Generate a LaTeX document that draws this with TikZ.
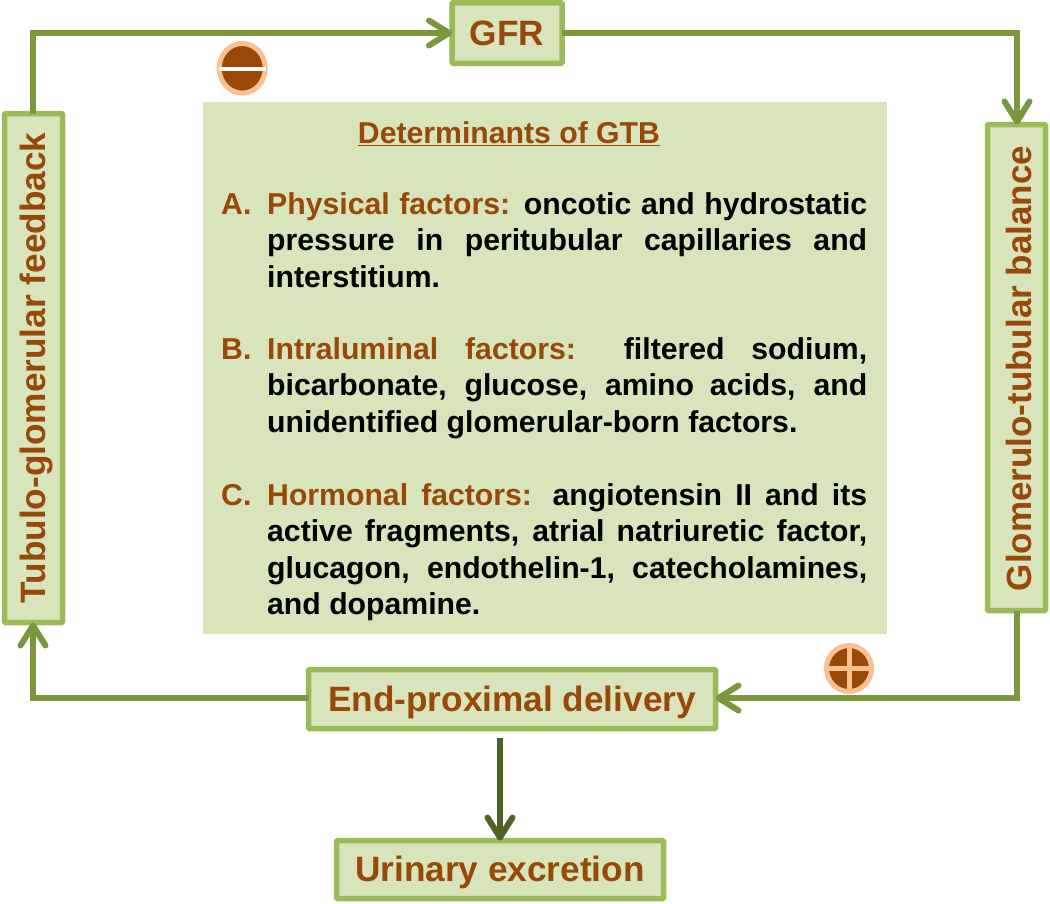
\documentclass[tikz,border=0pt]{standalone}
\usepackage{fontspec}
\setmainfont{Liberation Sans}
\usetikzlibrary{arrows.meta,shapes.geometric}
\definecolor{boxfill}{HTML}{D8E4BC}
\definecolor{boxline}{HTML}{9BBB59}
\definecolor{conn}{HTML}{7A973D}
\definecolor{dconn}{HTML}{4F6228}
\definecolor{brown}{HTML}{984807}
\definecolor{ring}{HTML}{FAC090}
\tikzset{
  x=1pt,y=-1pt,
  flow/.style={line width=5.5pt,fill=boxfill,draw=boxline,rounded corners=1pt,inner sep=0pt,outer sep=0pt,
     text=brown,font=\fontsize{35.2}{38}\selectfont\bfseries,anchor=center},
  conline/.style={draw=conn,line width=6pt},
  tip/.style={-{Straight Barb[length=20pt,width=25pt,line width=6pt,round]}},
  para/.style={anchor=north west,inner sep=0pt,text width=600pt,align=justify,font=\fontsize{30.2}{36.6}\selectfont\bfseries},
  letter/.style={anchor=north west,inner sep=0pt,text=brown,font=\fontsize{30.2}{36.6}\selectfont\bfseries},
  sign/.style={ellipse,fill=brown,draw=ring,line width=5pt,inner sep=0pt,outer sep=0pt}
}
\newcommand{\lab}[1]{\textcolor{brown}{#1}}
\newcommand{\dropb}[2]{\raisebox{-#1pt}[0pt][0pt]{#2}}
\begin{document}
\begin{tikzpicture}
\useasboundingbox (0,0) rectangle (1050,903);
\fill[boxfill] (203,102) rectangle (887,634);
\coordinate (tl) at (33,33);
\coordinate (tr) at (1017,33);
\coordinate (br) at (1017,698);
\coordinate (bl) at (33,698);
\coordinate (dstart) at (500,738);
\node[flow,minimum width=110pt,minimum height=60.5pt] (gfr) at (507,33) {\dropb{12.3}{GFR}};
\node[flow,minimum width=58pt,minimum height=509pt] (tgf) at (33.5,368) {\rotatebox{90}{\dropb{12.3}{Tubulo-glomerular feedback}}};
\node[flow,minimum width=58pt,minimum height=486pt] (gtb) at (1016.5,367.5) {\rotatebox{90}{\dropb{14.5}{\fontsize{35}{38}\selectfont Glomerulo-tubular balance\hspace{2pt}}}};
\node[flow,minimum width=407pt,minimum height=59pt] (epd) at (512,699) {\dropb{12}{End-proximal delivery}};
\node[flow,minimum width=327pt,minimum height=58pt] (uex) at (500,869.5) {\dropb{12}{Urinary excretion}};
\draw[conline,tip] (tgf.north -| tl) -- (tl) -- (gfr.west);
\draw[conline,tip] (gfr.east) -- (tr) -- (gtb.north -| tr);
\draw[conline,tip] (gtb.south -| br) -- (br) -- (epd.east |- br);
\draw[conline,tip] (epd.west |- bl) -- (bl) -- (tgf.south -| bl);
\draw[draw=dconn,line width=6pt,-{Straight Barb[length=20pt,width=25pt,line width=6pt,round]}] (dstart) -- (uex.north -| dstart);
\node[sign,minimum width=46pt,minimum height=49.7pt] (minus) at (242.2,68.3) {};
\fill[white] (219,66.7) rectangle (265.7,70.7);
\node[sign,minimum width=45pt,minimum height=46pt] (plus) at (849,668.5) {};
\fill[ring] (846.7,646) rectangle (852,691);
\fill[ring] (827,665.7) rectangle (871,671);
\node[anchor=base,inner sep=0pt,text=brown,font=\fontsize{30.2}{34}\selectfont\bfseries] (head) at (509,143) {\underline{Determinants of GTB}};
\node[letter] (la) at (221,192) {\vphantom{Pd}A.};
\node[para] (pa) at (267,192) {\lab{Physical factors:} oncotic and hydrostatic\linebreak pressure in peritubular capillaries and\linebreak interstitium.};
\node[letter] (lb) at (221,337) {\vphantom{Pd}B.};
\node[para] (pb) at (267,337) {\lab{Intraluminal factors:} filtered sodium,\linebreak bicarbonate, glucose, amino acids, and\linebreak unidentified glomerular-born factors.};
\node[letter] (lc) at (221,483) {\vphantom{Pd}C.};
\node[para] (pc) at (267,483) {\lab{Hormonal factors:} angiotensin II and its\linebreak active fragments, atrial natriuretic factor,\linebreak glucagon, endothelin-1, catecholamines,\linebreak and dopamine.};
\end{tikzpicture}
\end{document}
